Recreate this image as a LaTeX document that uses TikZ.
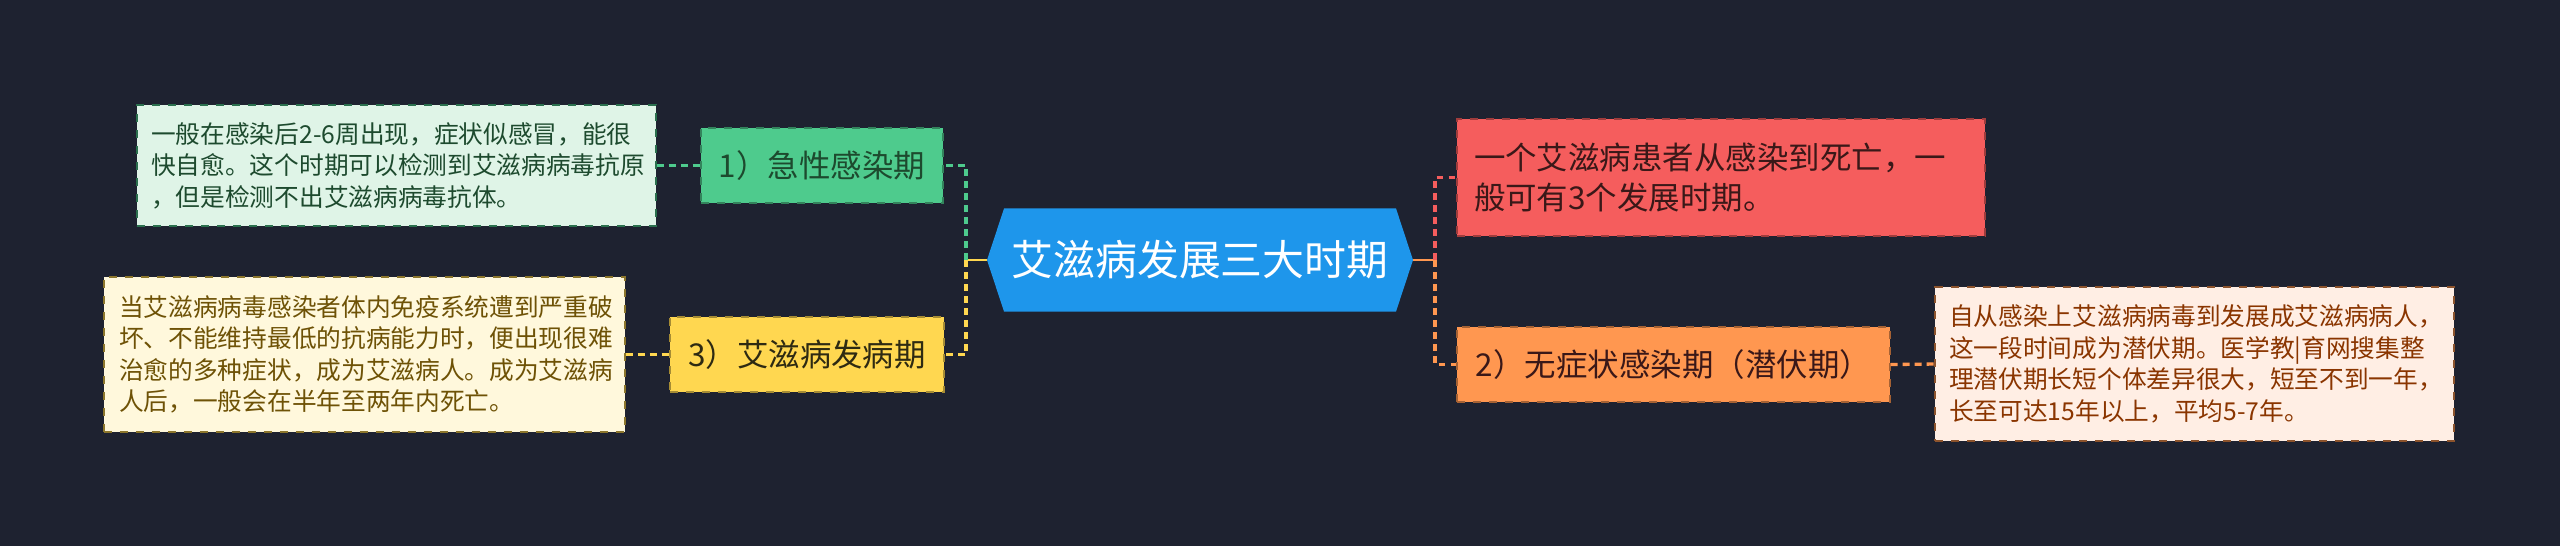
\documentclass[tikz,border=0pt]{standalone}
\usepackage{fontspec}
\setmainfont{Noto Sans CJK SC}
\usetikzlibrary{backgrounds}
\definecolor{bgc}{HTML}{1E2230}
\definecolor{cblue}{HTML}{1E96EB}
\definecolor{cgreen}{HTML}{4ECB8D}
\definecolor{cgreenL}{HTML}{DFF4E7}
\definecolor{cgreenT}{HTML}{1D4A2E}
\definecolor{cyellow}{HTML}{FFD750}
\definecolor{cyellowL}{HTML}{FFF8DC}
\definecolor{cyellowT}{HTML}{6E5206}
\definecolor{cred}{HTML}{F55D5D}
\definecolor{credT}{HTML}{3A1818}
\definecolor{corange}{HTML}{FF9750}
\definecolor{corangeL}{HTML}{FFEEE4}
\definecolor{corangeT}{HTML}{8A3500}
\definecolor{darkT}{HTML}{2E2A12}
\begin{document}
\begin{tikzpicture}[x=0.375pt,y=-0.375pt,
  titlebox/.style={inner sep=0pt, minimum width=146.6pt, minimum height=38.25pt,
    text=white, font=\fontsize{15.7pt}{18pt}\selectfont},
  lvl/.style={draw=#1!65!black, fill=#1, dashed, line width=0.5pt, inner xsep=6pt,
    minimum height=28.125pt, font=\fontsize{11.8pt}{15pt}\selectfont},
  detail/.style={draw=#1!55!black, dashed, line width=0.5pt, inner xsep=4pt,
    text width=184pt, align=left, font=\fontsize{9.26pt}{11.8pt}\selectfont},
  link/.style={draw=#1, line width=1.25pt, dash pattern=on 2.6pt off 1.9pt},
  stem/.style={draw=#1, line width=1.1pt}
]
\useasboundingbox (0,0) rectangle (2560,546);

% central node
\node[titlebox] (c) at (1200,260) {艾滋病发展三大时期};
\begin{scope}[on background layer]
  \fill[bgc] (0,0) rectangle (2560,546);
  \fill[cblue] (c.north west) -- (c.north east) -- ([xshift=6.375pt]c.east)
    -- (c.south east) -- (c.south west) -- ([xshift=-6.375pt]c.west) -- cycle;
\end{scope}
\coordinate (cL) at ([xshift=-6.375pt]c.west);
\coordinate (cR) at ([xshift=6.375pt]c.east);
\coordinate (jL) at (966,260);
\coordinate (jR) at (1435,260);

% level-1 nodes
\node[lvl=cgreen, minimum width=90.75pt, text=cgreenT] (g1) at (822,165.5) {1）急性感染期};
\node[lvl=cyellow, minimum width=102.75pt, text=darkT] (y1) at (807,354.5) {3）艾滋病发病期};
\node[lvl=cred, minimum width=198pt, minimum height=43.875pt, text width=185.25pt,
  align=left, text=credT] (r1) at (1721,177.5) {一个艾滋病患者从感染到死亡，一\\般可有3个发展时期。};
\node[lvl=corange, minimum width=162.4pt, text=credT] (o1) at (1673.5,364.5) {2）无症状感染期（潜伏期）};

% detail nodes
\node[detail=cgreen, fill=cgreenL, text=cgreenT, minimum width=194.6pt, minimum height=45.4pt]
  (g2) at (396.5,165.5) {一般在感染后2-6周出现，症状似感冒，能很\\快自愈。这个时期可以检测到艾滋病病毒抗原\\，但是检测不出艾滋病病毒抗体。};
\node[detail=cyellow, fill=cyellowL, text=cyellowT, minimum width=195.4pt, minimum height=58.1pt]
  (y2) at (364.5,354.5) {当艾滋病病毒感染者体内免疫系统遭到严重破\\坏、不能维持最低的抗病能力时，便出现很难\\治愈的多种症状，成为艾滋病人。成为艾滋病\\人后，一般会在半年至两年内死亡。};
\node[detail=corange, fill=corangeL, text=corangeT, minimum width=194.6pt, minimum height=57.75pt]
  (o2) at (2194.5,364) {自从感染上艾滋病病毒到发展成艾滋病病人，\\这一段时间成为潜伏期。医学教|育网搜集整\\理潜伏期长短个体差异很大，短至不到一年，\\长至可达15年以上，平均5-7年。};

% connectors left
\draw[stem=cyellow] (cL) -- (jL);
\draw[link=cgreen] (jL) |- (g1.east);
\draw[link=cyellow] (jL) |- (y1.east);
\draw[link=cgreen] (g2.east) -- (g1.west);
\draw[link=cyellow] (y2.east) -- (y1.west);
% connectors right
\draw[stem=corange] (cR) -- (jR);
\draw[link=cred] (jR) |- (r1.west);
\draw[link=corange] (jR) |- (o1.west);
\draw[link=corange] (o1.east) -- (o2.west);
\end{tikzpicture}
\end{document}
